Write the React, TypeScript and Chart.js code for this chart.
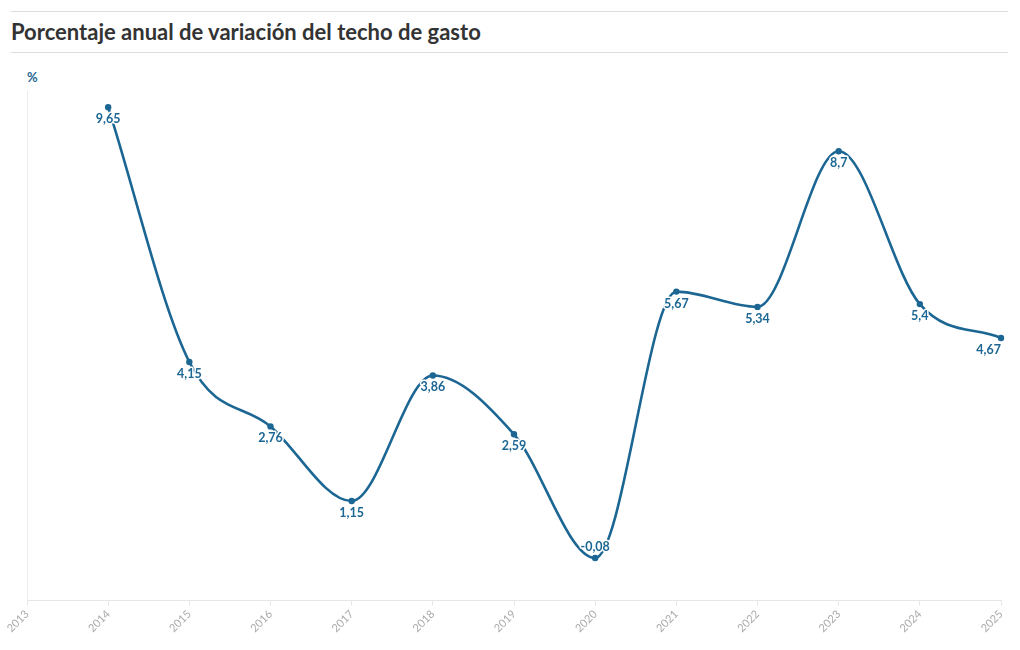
import React, { useEffect, useRef } from "react";
import { Chart, registerables } from "chart.js";

Chart.register(...registerables);

const years: string[] = ["2013", "2014", "2015", "2016", "2017", "2018", "2019", "2020", "2021", "2022", "2023", "2024", "2025"];
const techoVariacion: (number | null)[] = [null, 9.65, 4.15, 2.76, 1.15, 3.86, 2.59, -0.08, 5.67, 5.34, 8.7, 5.4, 4.67];

const TITLE = "Porcentaje anual de variación del techo de gasto";
const UNIT = "%";
const BLUE = "#1c6693";
const FONT = "Lato, 'Noto Sans', sans-serif";

const labelPlugin = {
  id: "pointLabels",
  afterDatasetsDraw(chart: any) {
    const ctx = chart.ctx;
    const area = chart.chartArea;
    const meta = chart.getDatasetMeta(0);
    const data = chart.data.datasets[0].data as (number | null)[];
    ctx.save();
    ctx.font = `bold 12.5px ${FONT}`;
    ctx.textAlign = "center";
    ctx.textBaseline = "middle";
    ctx.lineJoin = "round";
    meta.data.forEach((pt: any, i: number) => {
      const v = data[i];
      if (v === null || v === undefined) return;
      const txt = String(v).replace(".", ",");
      const w = ctx.measureText(txt).width;
      let x = pt.x;
      if (x + w / 2 > area.right) x = area.right - w / 2;
      const y = v < 0 ? pt.y - 11 : pt.y + 12;
      ctx.strokeStyle = "#ffffff";
      ctx.lineWidth = 3;
      ctx.strokeText(txt, x, y);
      ctx.fillStyle = BLUE;
      ctx.fillText(txt, x, y);
    });
    ctx.restore();
  },
};

export default function App() {
  const canvasRef = useRef<HTMLCanvasElement | null>(null);

  useEffect(() => {
    if (!canvasRef.current) return;
    const chart = new Chart(canvasRef.current, {
      type: "line",
      data: {
        labels: years,
        datasets: [
          {
            data: techoVariacion,
            borderColor: BLUE,
            backgroundColor: BLUE,
            borderWidth: 2.6,
            pointRadius: 3.2,
            pointHoverRadius: 3.2,
            pointBorderWidth: 0,
            cubicInterpolationMode: "monotone",
            spanGaps: true,
            clip: false as any,
          },
        ],
      },
      options: {
        animation: false,
        responsive: false,
        maintainAspectRatio: false,
        layout: { padding: { top: 91, right: 19, bottom: 13, left: 27 } },
        plugins: {
          legend: { display: false },
          tooltip: { enabled: false },
          title: { display: false },
        },
        scales: {
          x: {
            offset: false,
            grid: {
              display: true,
              drawOnChartArea: false,
              drawTicks: true,
              tickLength: 5,
              color: "#e6e6e6",
            },
            border: { display: true, color: "#e6e6e6" },
            ticks: {
              color: "#aaaaaa",
              font: { family: FONT, size: 11 },
              maxRotation: 45,
              minRotation: 45,
              autoSkip: false,
              padding: 2,
            },
          },
          y: {
            min: -1,
            max: 10,
            grid: { display: false, drawTicks: false },
            border: { display: true, color: "#ececec" },
            ticks: { display: false },
          },
        },
      },
      plugins: [labelPlugin],
    });
    return () => chart.destroy();
  }, []);

  return (
    <div style={{ position: "fixed", left: 0, top: 0, width: 1020, height: 650, background: "#fff", fontFamily: FONT }}>
      <div
        style={{
          position: "absolute",
          left: 11,
          top: 11,
          width: 997,
          height: 40,
          borderTop: "1px solid #dddddd",
          borderBottom: "1px solid #dddddd",
        }}
      >
        <div
          style={{
            position: "absolute",
            left: 0,
            top: 6,
            fontSize: 22,
            fontWeight: 700,
            color: "#333333",
            whiteSpace: "nowrap",
            lineHeight: "28px",
          }}
        >
          {TITLE}
        </div>
      </div>
      <div
        style={{
          position: "absolute",
          left: 27,
          top: 69,
          fontSize: 13,
          fontWeight: 700,
          color: BLUE,
        }}
      >
        {UNIT}
      </div>
      <canvas ref={canvasRef} width={1020} height={650} style={{ position: "absolute", left: 0, top: 0, width: 1020, height: 650 }} />
    </div>
  );
}
